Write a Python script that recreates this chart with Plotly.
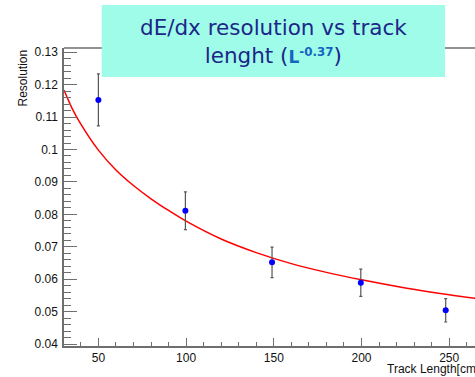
import plotly.graph_objects as go

# Data points
track_length = [50, 99.6, 149, 199.6, 248]
resolution = [0.1153, 0.0811, 0.0652, 0.0589, 0.0504]
res_error = [0.0080, 0.0058, 0.0047, 0.0042, 0.0036]

# Fit curve
fit_x = [30.4, 35, 40, 50, 60, 70, 80, 90, 100, 120, 140, 160, 180, 200, 225, 250, 265]
fit_y = [0.1183, 0.1127, 0.1078, 0.0998, 0.0937, 0.0889, 0.0848, 0.0812, 0.0779, 0.0724,
         0.0682, 0.0648, 0.0621, 0.0598, 0.0573, 0.0552, 0.0541]

y_ticks = [0.04, 0.05, 0.06, 0.07, 0.08, 0.09, 0.1, 0.11, 0.12, 0.13]
y_tick_labels = ["0.04", "0.05", "0.06", "0.07", "0.08", "0.09", "0.1", "0.11", "0.12", "0.13"]
x_ticks = [50, 100, 150, 200, 250]

fig = go.Figure()
fig.add_trace(go.Scatter(
    x=fit_x, y=fit_y, mode="lines", line=dict(color="#ff0000", width=1.5, shape="spline", smoothing=0.8),
    hoverinfo="skip", showlegend=False))
fig.add_trace(go.Scatter(
    x=track_length, y=resolution, mode="markers",
    marker=dict(color="#0000ff", size=6),
    error_y=dict(type="data", array=res_error, color="#555555", thickness=1.2, width=1.5),
    showlegend=False))

axis_color = "#6e6e6e"
fig.update_layout(
    width=475, height=377,
    margin=dict(l=64, r=0, t=48, b=31, pad=0),
    paper_bgcolor="white", plot_bgcolor="white",
    font=dict(family="Liberation Sans, Arial, sans-serif", size=12, color="#111111"),
    xaxis=dict(range=[30.4, 264.7], tickvals=x_ticks, ticks="inside", ticklen=8, tickwidth=1,
               tickcolor=axis_color, showline=True, linecolor=axis_color, linewidth=1.5,
               showgrid=False, zeroline=False, ticklabelstandoff=0,
               minor=dict(dtick=10, tick0=0, ticks="inside", ticklen=4, tickcolor=axis_color, showgrid=False)),
    yaxis=dict(range=[0.0394, 0.1313], tickvals=y_ticks, ticktext=y_tick_labels, ticks="inside",
               ticklen=13, tickwidth=1, tickcolor=axis_color, showline=True, linecolor=axis_color,
               linewidth=1.5, showgrid=False, zeroline=False, ticklabelstandoff=2,
               minor=dict(dtick=0.002, tick0=0.04, ticks="inside", ticklen=7, tickcolor=axis_color, showgrid=False)),
)

# top frame line
fig.add_shape(type="line", xref="paper", yref="paper", x0=0, x1=1, y0=1, y1=1,
              line=dict(color=axis_color, width=1.5))
# title box
fig.add_shape(type="rect", xref="paper", yref="paper",
              x0=(101.7 - 64) / 411, x1=(445 - 64) / 411,
              y0=(346 - 77) / 298, y1=(346 - 5) / 298,
              fillcolor="#9ffce8", line=dict(width=0), layer="above")
fig.add_annotation(
    xref="paper", yref="paper", x=(273 - 64) / 411, y=(346 - 42) / 298,
    text="dE/dx resolution vs track<br>lenght (<b><span style='color:#1565c0;font-size:17px'>L<sup>-0.37</sup></span></b>)",
    showarrow=False, align="center", xanchor="center", yanchor="middle",
    font=dict(family="DejaVu Sans, Verdana, sans-serif", size=21.5, color="#1c2788"))

# axis titles
fig.add_annotation(xref="paper", yref="paper", x=(22 - 64) / 411, y=(346 - 48) / 298,
                   text="Resolution", textangle=-90, showarrow=False,
                   xanchor="center", yanchor="top", font=dict(size=12, color="#111111"))
fig.add_annotation(xref="paper", yref="paper", x=(385 - 64) / 411, y=(346 - 369) / 298,
                   text="Track Length[cm]", showarrow=False,
                   xanchor="left", yanchor="middle", font=dict(size=12, color="#111111"))

fig.write_html("out.html")
